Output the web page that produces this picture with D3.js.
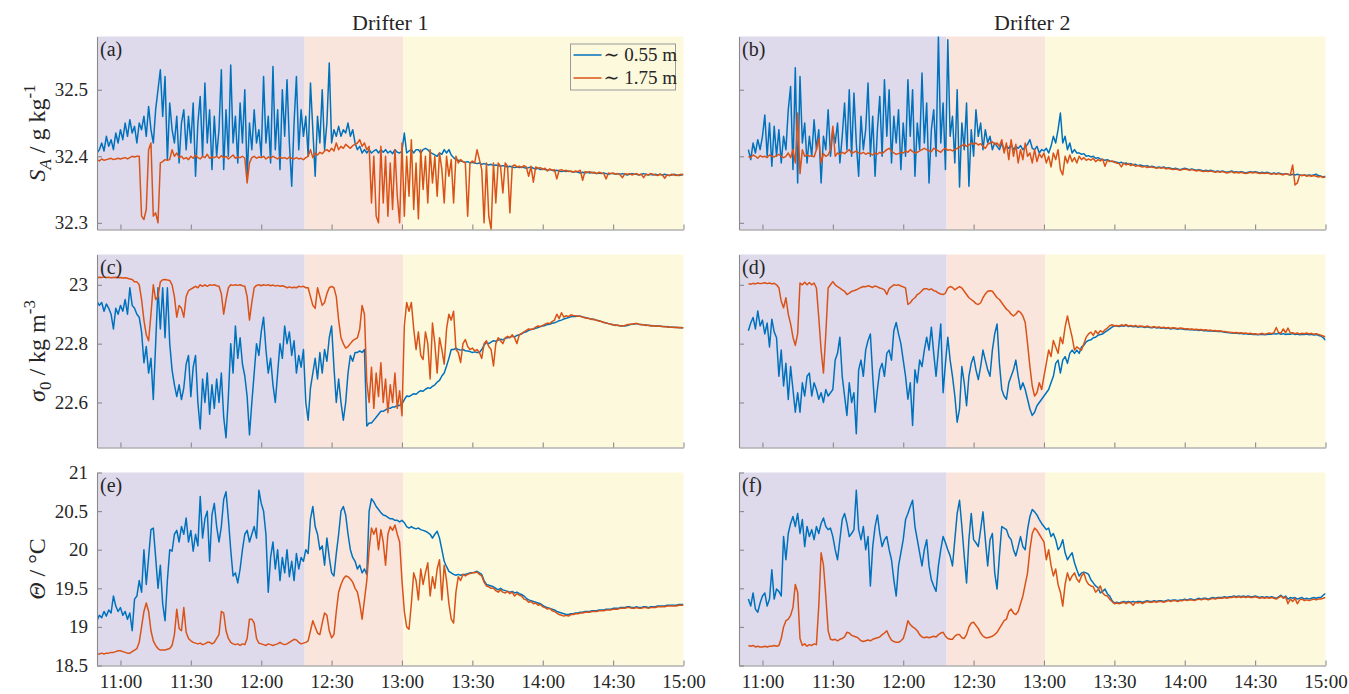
<!DOCTYPE html>
<html>
<head>
<meta charset="utf-8">
<style>
  body { margin: 0; background: #fff; }
  svg { font-family: "Liberation Serif", "Times New Roman", "DejaVu Serif", serif; }
  .tick text { font-family: "Liberation Serif", "Times New Roman", "DejaVu Serif", serif; font-size: 19px; fill: #262626; }
  .axis path, .axis line { stroke: #8a8a8a; stroke-width: 1.1; }
  .trace { fill: none; stroke-width: 1.5; stroke-linejoin: round; }
  .lbl { font-family: "Liberation Serif", "Times New Roman", "DejaVu Serif", serif; fill: #262626; }
</style>
</head>
<body>
<script src="https://d3js.org/d3.v7.min.js"></script>
<div id="chart"></div>
<script>
// one value per minute, starting 10:50 (index 0) to 15:00 (index 250)
// drifter 1 absolute salinity
var sal1Shallow = [
  32.405, 32.41, 32.42, 32.408, 32.43, 32.415, 32.425, 32.41, 32.435, 32.42,
  32.44, 32.425, 32.45, 32.43, 32.455, 32.435, 32.445, 32.42, 32.45, 32.44,
  32.46, 32.43, 32.475, 32.44, 32.42, 32.47, 32.5, 32.53, 32.46, 32.52,
  32.395, 32.48, 32.44, 32.42, 32.46, 32.39, 32.45, 32.47, 32.41, 32.46,
  32.42, 32.48, 32.37, 32.45, 32.49, 32.4, 32.51, 32.42, 32.47, 32.38,
  32.46, 32.4, 32.44, 32.53, 32.38, 32.47, 32.4, 32.537, 32.42, 32.46,
  32.39, 32.48, 32.42, 32.5, 32.37, 32.45, 32.41, 32.47, 32.42, 32.44,
  32.4, 32.52, 32.42, 32.46, 32.39, 32.535, 32.41, 32.47, 32.38, 32.5,
  32.43, 32.515, 32.42, 32.355, 32.45, 32.52, 32.41, 32.47, 32.43, 32.46,
  32.4, 32.51, 32.44, 32.37, 32.46, 32.42, 32.5, 32.41, 32.45, 32.54,
  32.42, 32.44, 32.43, 32.445, 32.43, 32.44, 32.435, 32.45, 32.43, 32.44,
  32.42, 32.41, 32.415, 32.405, 32.41, 32.405, 32.41, 32.405, 32.408, 32.41,
  32.405, 32.41, 32.406, 32.41, 32.405, 32.408, 32.404, 32.41, 32.406, 32.405,
  32.408, 32.435, 32.405, 32.408, 32.41, 32.405, 32.41, 32.41, 32.405, 32.41,
  32.412, 32.41, 32.406, 32.404, 32.402, 32.4, 32.405, 32.403, 32.41, 32.405,
  32.41, 32.402, 32.398, 32.395, 32.394, 32.393, 32.392, 32.391, 32.392, 32.39,
  32.391, 32.39, 32.389, 32.39, 32.388, 32.389, 32.388, 32.387, 32.388, 32.386,
  32.387, 32.386, 32.385, 32.386, 32.385, 32.384, 32.385, 32.384, 32.383, 32.384,
  32.383, 32.384, 32.383, 32.382, 32.383, 32.384, 32.382, 32.381, 32.382, 32.38,
  32.381, 32.38, 32.379, 32.38, 32.379, 32.378, 32.379, 32.378, 32.377, 32.378,
  32.377, 32.378, 32.377, 32.376, 32.377, 32.376, 32.375, 32.376, 32.375, 32.376,
  32.375, 32.376, 32.375, 32.374, 32.375, 32.374, 32.375, 32.374, 32.373, 32.374,
  32.374, 32.373, 32.374, 32.373, 32.374, 32.373, 32.372, 32.373, 32.374, 32.373,
  32.373, 32.372, 32.373, 32.374, 32.373, 32.372, 32.373, 32.372, 32.373, 32.372,
  32.373, 32.372, 32.373, 32.372, 32.371, 32.372, 32.373, 32.372, 32.371, 32.372, 32.373
];
var sal1Deep = [
  32.395, 32.393, 32.396, 32.394, 32.395, 32.396, 32.397, 32.395, 32.396, 32.397,
  32.396, 32.397, 32.398, 32.396, 32.398, 32.4, 32.399, 32.4, 32.4, 32.31,
  32.305, 32.32, 32.41, 32.42, 32.31, 32.315, 32.3, 32.39, 32.392, 32.395,
  32.394, 32.395, 32.41, 32.4, 32.405, 32.398, 32.4, 32.396, 32.398, 32.395,
  32.4, 32.397, 32.402, 32.398, 32.396, 32.4, 32.398, 32.403, 32.397, 32.399,
  32.398, 32.4, 32.397, 32.401, 32.398, 32.4, 32.396, 32.399, 32.402, 32.397,
  32.399, 32.398, 32.4, 32.397, 32.36, 32.39, 32.398, 32.4, 32.397, 32.399,
  32.398, 32.4, 32.396, 32.399, 32.397, 32.4, 32.398, 32.396, 32.399, 32.397,
  32.398, 32.396, 32.399, 32.397, 32.396, 32.398, 32.396, 32.397, 32.395, 32.398,
  32.4, 32.41, 32.398, 32.405, 32.402, 32.406, 32.404, 32.408, 32.41, 32.407,
  32.412, 32.408, 32.42, 32.41, 32.415, 32.412, 32.418, 32.415, 32.412, 32.416,
  32.418, 32.42, 32.425, 32.415, 32.42, 32.41, 32.415, 32.33, 32.4, 32.31,
  32.3, 32.415, 32.33, 32.4, 32.31, 32.39, 32.32, 32.41, 32.34, 32.3,
  32.42, 32.31, 32.4, 32.34, 32.425, 32.32, 32.39, 32.306, 32.41, 32.35,
  32.4, 32.33, 32.41, 32.36, 32.4, 32.34, 32.405, 32.38, 32.33, 32.4,
  32.37, 32.395, 32.33, 32.4, 32.39, 32.395, 32.392, 32.39, 32.31, 32.39,
  32.393, 32.39, 32.41, 32.395, 32.38, 32.3, 32.39, 32.31, 32.29, 32.39,
  32.33, 32.39, 32.385, 32.345, 32.39, 32.385, 32.315, 32.385, 32.387, 32.384,
  32.385, 32.383, 32.386, 32.384, 32.37, 32.385, 32.361, 32.384, 32.382, 32.383,
  32.38, 32.382, 32.378, 32.381, 32.379, 32.38, 32.366, 32.379, 32.38, 32.378,
  32.379, 32.377, 32.378, 32.376, 32.378, 32.377, 32.379, 32.364, 32.377, 32.376,
  32.377, 32.375, 32.376, 32.374, 32.376, 32.375, 32.374, 32.366, 32.375, 32.374,
  32.375, 32.373, 32.374, 32.372, 32.368, 32.374, 32.373, 32.374, 32.372, 32.373,
  32.374, 32.372, 32.373, 32.368, 32.373, 32.372, 32.374, 32.373, 32.372, 32.371,
  32.373, 32.372, 32.367, 32.372, 32.371, 32.373, 32.372, 32.371, 32.372, 32.373, 32.372
];
// drifter 2 absolute salinity (record starts ~10:54)
var sal2Shallow = [
  null, null, null, null, 32.41, 32.395, 32.42, 32.405, 32.425, 32.41,
  32.43, 32.462, 32.4, 32.45, 32.385, 32.445, 32.4, 32.44, 32.39, 32.43,
  32.41, 32.47, 32.505, 32.38, 32.533, 32.36, 32.52, 32.42, 32.45, 32.39,
  32.43, 32.4, 32.455, 32.41, 32.44, 32.36, 32.43, 32.41, 32.47, 32.4,
  32.44, 32.42, 32.45, 32.39, 32.43, 32.48, 32.41, 32.5, 32.4, 32.495,
  32.42, 32.37, 32.46, 32.41, 32.44, 32.51, 32.4, 32.46, 32.37, 32.44,
  32.49, 32.4, 32.515, 32.43, 32.5, 32.39, 32.46, 32.42, 32.47, 32.38,
  32.45, 32.4, 32.515, 32.43, 32.5, 32.37, 32.45, 32.41, 32.525, 32.42,
  32.48, 32.36, 32.44, 32.47, 32.4, 32.58, 32.42, 32.48, 32.38, 32.575,
  32.43, 32.46, 32.39, 32.5, 32.354, 32.45, 32.41, 32.48, 32.355, 32.44,
  32.4, 32.47, 32.43, 32.45, 32.41, 32.44, 32.42, 32.43, 32.41, 32.42,
  32.415, 32.41, 32.42, 32.41, 32.415, 32.412, 32.418, 32.41, 32.415, 32.412,
  32.416, 32.41, 32.414, 32.418, 32.425, 32.412, 32.41, 32.415, 32.405, 32.41,
  32.408, 32.412, 32.405, 32.415, 32.43, 32.42, 32.44, 32.465, 32.42, 32.43,
  32.41, 32.42, 32.405, 32.41, 32.405, 32.405, 32.403, 32.404, 32.4, 32.401,
  32.399, 32.4, 32.397, 32.398, 32.396, 32.395, 32.394, 32.395, 32.393, 32.392,
  32.392, 32.391, 32.39, 32.391, 32.389, 32.39, 32.388, 32.389, 32.387, 32.388,
  32.386, 32.387, 32.386, 32.385, 32.386, 32.384, 32.385, 32.384, 32.383, 32.384,
  32.383, 32.384, 32.382, 32.383, 32.382, 32.381, 32.382, 32.381, 32.38, 32.381,
  32.382, 32.381, 32.38, 32.381, 32.38, 32.379, 32.38, 32.379, 32.378, 32.379,
  32.378, 32.379, 32.378, 32.377, 32.378, 32.377, 32.378, 32.377, 32.376, 32.377,
  32.378, 32.376, 32.377, 32.376, 32.377, 32.376, 32.375, 32.376, 32.377, 32.376,
  32.377, 32.376, 32.375, 32.376, 32.375, 32.376, 32.375, 32.374, 32.375, 32.374,
  32.375, 32.374, 32.373, 32.374, 32.373, 32.372, 32.373, 32.372, 32.373, 32.372,
  32.371, 32.372, 32.371, 32.372, 32.371, 32.372, 32.373, 32.371, 32.37, 32.369, 32.37
];
var sal2Deep = [
  null, null, null, null, 32.4, 32.398, 32.402, 32.4, 32.397, 32.401,
  32.399, 32.4, 32.398, 32.402, 32.4, 32.399, 32.401, 32.403, 32.4, 32.398,
  32.4, 32.405, 32.398, 32.41, 32.39, 32.465, 32.374, 32.41, 32.4, 32.402,
  32.4, 32.401, 32.399, 32.41, 32.427, 32.39, 32.404, 32.4, 32.402, 32.41,
  32.445, 32.4, 32.405, 32.403, 32.406, 32.404, 32.407, 32.41, 32.405, 32.406,
  32.408, 32.405, 32.404, 32.406, 32.403, 32.405, 32.404, 32.402, 32.405, 32.403,
  32.406, 32.404, 32.407, 32.41, 32.412, 32.408, 32.405, 32.403, 32.404, 32.406,
  32.405, 32.408, 32.406, 32.41, 32.407, 32.405, 32.406, 32.408, 32.41, 32.412,
  32.41, 32.408, 32.407, 32.412, 32.41, 32.408, 32.406, 32.41, 32.412, 32.409,
  32.41, 32.408, 32.41, 32.412, 32.414, 32.416, 32.418, 32.415, 32.417, 32.42,
  32.418, 32.42, 32.417, 32.419, 32.415, 32.412, 32.418, 32.42, 32.422, 32.418,
  32.42, 32.415, 32.425, 32.405, 32.42, 32.395, 32.425, 32.4, 32.418, 32.39,
  32.41, 32.395, 32.42, 32.4, 32.405, 32.39, 32.41, 32.392, 32.404, 32.398,
  32.405, 32.39, 32.4, 32.384, 32.405, 32.395, 32.41, 32.38, 32.372, 32.4,
  32.39, 32.402, 32.392, 32.398, 32.39, 32.4, 32.395, 32.398, 32.394, 32.396,
  32.394, 32.397, 32.392, 32.395, 32.393, 32.396, 32.385, 32.394, 32.392, 32.393,
  32.391, 32.39, 32.389, 32.384, 32.39, 32.387, 32.389, 32.386, 32.388, 32.385,
  32.386, 32.385, 32.384, 32.385, 32.383, 32.384, 32.384, 32.383, 32.382, 32.383,
  32.382, 32.383, 32.381, 32.382, 32.381, 32.38, 32.381, 32.38, 32.379, 32.38,
  32.381, 32.38, 32.379, 32.38, 32.379, 32.378, 32.379, 32.378, 32.377, 32.378,
  32.377, 32.378, 32.377, 32.376, 32.377, 32.376, 32.377, 32.376, 32.375, 32.376,
  32.377, 32.375, 32.376, 32.375, 32.376, 32.375, 32.374, 32.375, 32.376, 32.375,
  32.376, 32.375, 32.374, 32.375, 32.374, 32.375, 32.374, 32.373, 32.374, 32.373,
  32.374, 32.373, 32.372, 32.374, 32.373, 32.372, 32.387, 32.357, 32.36, 32.372,
  32.371, 32.372, 32.37, 32.371, 32.37, 32.371, 32.37, 32.369, 32.37, 32.368, 32.369
];
// drifter 1 potential density anomaly
var sig1Shallow = [
  22.944, 22.93, 22.94, 22.91, 22.935, 22.92, 22.9, 22.85, 22.92, 22.9,
  22.93, 22.91, 22.95, 22.9, 22.99, 22.93, 22.92, 22.9, 22.89, 22.84,
  22.735, 22.79, 22.7, 22.75, 22.61, 22.8, 22.99, 22.85, 22.99, 22.82,
  22.99, 22.8, 22.71, 22.66, 22.62, 22.66, 22.61, 22.65, 22.73, 22.76,
  22.62, 22.72, 22.76, 22.6, 22.51, 22.68, 22.6, 22.7, 22.56, 22.66,
  22.58, 22.68, 22.6, 22.7, 22.55, 22.48, 22.62, 22.8, 22.7, 22.86,
  22.75, 22.82, 22.73, 22.69, 22.62, 22.49, 22.6, 22.7, 22.8, 22.76,
  22.84, 22.89, 22.78, 22.7, 22.75, 22.66, 22.6, 22.7, 22.8, 22.75,
  22.86, 22.8, 22.84, 22.76, 22.81, 22.7, 22.76, 22.72, 22.78, 22.6,
  22.54, 22.65, 22.7, 22.75, 22.68, 22.77, 22.7, 22.78, 22.74, 22.82,
  22.86, 22.72, 22.6, 22.68, 22.6, 22.54, 22.6, 22.7, 22.76, 22.74,
  22.77, 22.77, 22.775, 22.77, 22.78, 22.52, 22.53, 22.53, 22.54, 22.55,
  22.56, 22.57, 22.57, 22.575, 22.58, 22.58, 22.585, 22.585, 22.59, 22.59,
  22.594, 22.61, 22.622, 22.62, 22.625, 22.63, 22.628, 22.635, 22.64, 22.638,
  22.645, 22.65, 22.648, 22.655, 22.66, 22.669, 22.675, 22.69, 22.7, 22.724,
  22.75, 22.78, 22.78, 22.785, 22.78, 22.778, 22.78, 22.776, 22.775, 22.773,
  22.77, 22.772, 22.77, 22.77, 22.78, 22.795, 22.804, 22.8, 22.805, 22.81,
  22.808, 22.812, 22.815, 22.813, 22.818, 22.82, 22.822, 22.825, 22.823, 22.828,
  22.83, 22.833, 22.838, 22.84, 22.845, 22.848, 22.85, 22.852, 22.855, 22.858,
  22.86, 22.862, 22.865, 22.866, 22.869, 22.871, 22.874, 22.878, 22.88, 22.884,
  22.886, 22.889, 22.891, 22.893, 22.892, 22.894, 22.893, 22.891, 22.889, 22.887,
  22.885, 22.884, 22.882, 22.88, 22.878, 22.875, 22.872, 22.87, 22.868, 22.866,
  22.864, 22.863, 22.862, 22.861, 22.861, 22.86, 22.862, 22.864, 22.866, 22.867,
  22.868, 22.866, 22.865, 22.864, 22.863, 22.862, 22.862, 22.861, 22.86, 22.86,
  22.859, 22.858, 22.858, 22.857, 22.857, 22.856, 22.856, 22.855, 22.855, 22.854, 22.854
];
var sig1Deep = [
  23.025, 23.026, 23.025, 23.027, 23.025, 23.026, 23.024, 23.025, 23.026, 23.024,
  23.025, 23.023, 23.024, 23.022, 23.02, 23.018, 23.01, 23.01, 23.0, 22.95,
  22.88, 22.83, 22.81, 22.9, 23.0, 22.95, 22.96, 23.01, 23.017, 23.018,
  23.016, 23.015, 23.0, 22.96, 22.89, 22.93, 22.92, 22.89, 22.96, 22.98,
  22.985, 22.99, 22.995, 22.99, 23.0, 22.995, 23.0, 22.995, 23.0, 22.998,
  23.0, 22.997, 22.995, 22.97, 22.9, 22.95, 22.99, 23.0, 22.998, 23.0,
  22.998, 23.0, 22.997, 22.995, 22.96, 22.88, 22.94, 22.99, 22.998, 23.0,
  22.997, 23.0, 22.998, 23.0, 22.997, 22.999, 22.996, 22.998, 22.995, 22.997,
  22.994, 22.99, 22.993, 22.99, 22.992, 22.99, 22.995, 22.993, 22.995, 22.99,
  22.99, 22.96, 22.93, 22.92, 22.99, 22.96, 22.93, 22.94, 22.97, 22.99,
  22.995, 22.99, 22.96, 22.88, 22.82, 22.8, 22.785, 22.79, 22.8, 22.81,
  22.815, 22.82, 22.85, 22.93, 22.9, 22.67, 22.6, 22.72, 22.58, 22.7,
  22.62, 22.735, 22.6, 22.68, 22.565, 22.66, 22.6, 22.7, 22.58, 22.64,
  22.555, 22.86, 22.94, 22.91, 22.94, 22.85, 22.78, 22.84, 22.76, 22.746,
  22.84, 22.8, 22.68, 22.87, 22.8, 22.7, 22.82, 22.78, 22.73, 22.85,
  22.9, 22.88, 22.91, 22.78, 22.77, 22.736, 22.8, 22.814, 22.79, 22.78,
  22.785, 22.775, 22.78, 22.77, 22.75, 22.8, 22.81, 22.79, 22.78, 22.724,
  22.8, 22.82, 22.81, 22.8, 22.82, 22.825, 22.82, 22.83, 22.82, 22.8,
  22.83, 22.835, 22.84, 22.845, 22.85, 22.848, 22.85, 22.856, 22.86, 22.858,
  22.862, 22.866, 22.87, 22.868, 22.875, 22.88, 22.9, 22.885, 22.905, 22.89,
  22.895, 22.892, 22.898, 22.896, 22.895, 22.893, 22.893, 22.89, 22.888, 22.886,
  22.885, 22.882, 22.882, 22.879, 22.877, 22.875, 22.873, 22.87, 22.868, 22.866,
  22.864, 22.862, 22.863, 22.86, 22.86, 22.862, 22.864, 22.866, 22.866, 22.868,
  22.869, 22.866, 22.864, 22.864, 22.862, 22.863, 22.86, 22.861, 22.86, 22.859,
  22.86, 22.858, 22.857, 22.858, 22.856, 22.856, 22.855, 22.856, 22.854, 22.855, 22.854
];
// drifter 2 potential density anomaly
var sig2Shallow = [
  null, null, null, null, 22.844, 22.87, 22.889, 22.85, 22.911, 22.86,
  22.88, 22.833, 22.87, 22.789, 22.883, 22.84, 22.82, 22.689, 22.778, 22.656,
  22.733, 22.61, 22.722, 22.644, 22.567, 22.633, 22.567, 22.667, 22.622, 22.689,
  22.7, 22.622, 22.667, 22.644, 22.611, 22.633, 22.6, 22.644, 22.622, 22.633,
  22.644, 22.744, 22.767, 22.822, 22.689, 22.622, 22.556, 22.667, 22.6, 22.633,
  22.494, 22.711, 22.744, 22.689, 22.778, 22.811, 22.833, 22.689, 22.567, 22.644,
  22.711, 22.733, 22.689, 22.767, 22.778, 22.744, 22.844, 22.872, 22.833, 22.8,
  22.744, 22.689, 22.611, 22.667, 22.522, 22.711, 22.667, 22.744, 22.722, 22.778,
  22.822, 22.778, 22.856, 22.767, 22.689, 22.778, 22.867, 22.633, 22.733, 22.822,
  22.744, 22.689, 22.622, 22.533, 22.578, 22.722, 22.667, 22.589, 22.689, 22.733,
  22.756, 22.711, 22.678, 22.722, 22.778, 22.744, 22.711, 22.689, 22.778, 22.833,
  22.867, 22.733, 22.644, 22.622, 22.611, 22.667, 22.689, 22.711, 22.744, 22.689,
  22.644, 22.667, 22.644, 22.611, 22.578, 22.556, 22.567, 22.589, 22.6, 22.611,
  22.622, 22.633, 22.644, 22.667, 22.689, 22.733, 22.744, 22.7, 22.744, 22.756,
  22.733, 22.767, 22.778, 22.767, 22.778, 22.767, 22.789, 22.794, 22.806, 22.811,
  22.813, 22.82, 22.822, 22.828, 22.831, 22.833, 22.839, 22.844, 22.85, 22.856,
  22.86, 22.86, 22.858, 22.861, 22.859, 22.862, 22.858, 22.86, 22.857, 22.859,
  22.856, 22.858, 22.857, 22.855, 22.857, 22.855, 22.854, 22.856, 22.853, 22.855,
  22.852, 22.854, 22.851, 22.853, 22.85, 22.852, 22.851, 22.849, 22.851, 22.85,
  22.848, 22.849, 22.847, 22.848, 22.846, 22.847, 22.845, 22.846, 22.844, 22.845,
  22.843, 22.844, 22.842, 22.843, 22.841, 22.842, 22.84, 22.839, 22.838, 22.837,
  22.836, 22.835, 22.836, 22.834, 22.835, 22.833, 22.834, 22.832, 22.833, 22.831,
  22.832, 22.83, 22.831, 22.832, 22.83, 22.831, 22.833, 22.832, 22.834, 22.833,
  22.835, 22.832, 22.834, 22.831, 22.833, 22.832, 22.834, 22.831, 22.833, 22.83,
  22.832, 22.831, 22.833, 22.83, 22.832, 22.829, 22.831, 22.828, 22.826, 22.82, 22.812
];
var sig2Deep = [
  null, null, null, null, 23.004, 23.002, 23.005, 23.003, 23.006, 23.004,
  23.005, 23.007, 23.004, 23.006, 23.003, 23.005, 23.0, 22.99, 22.944, 22.922,
  22.956, 22.9, 22.867, 22.822, 22.794, 22.833, 23.006, 23.0, 23.009, 23.0,
  23.008, 23.0, 23.006, 22.989, 22.889, 22.778, 22.7, 22.833, 22.989, 23.0,
  23.011, 23.0, 22.994, 22.989, 22.983, 22.978, 22.967, 22.972, 22.978, 22.98,
  22.983, 22.987, 22.991, 22.994, 22.993, 22.997, 22.994, 22.991, 22.996, 22.993,
  22.989, 22.987, 22.983, 22.967, 22.987, 22.994, 23.0, 22.998, 23.0, 22.996,
  22.993, 22.989, 22.933, 22.939, 22.95, 22.956, 22.967, 22.972, 22.98, 22.987,
  22.987, 22.983, 22.986, 22.98, 22.978, 22.972, 22.969, 22.967, 22.972, 22.989,
  22.994, 22.991, 22.983, 22.989, 22.994, 22.989, 22.978, 22.967, 22.956, 22.95,
  22.944, 22.936, 22.933, 22.939, 22.956, 22.969, 22.978, 22.98, 22.978, 22.967,
  22.956, 22.95, 22.939, 22.928, 22.917, 22.911, 22.9, 22.894, 22.9, 22.911,
  22.906, 22.894, 22.872, 22.8, 22.722, 22.656, 22.622, 22.633, 22.667, 22.644,
  22.689, 22.733, 22.778, 22.756, 22.811, 22.789, 22.767, 22.822, 22.8, 22.856,
  22.894, 22.856, 22.822, 22.778, 22.789, 22.783, 22.778, 22.8, 22.822, 22.833,
  22.839, 22.828, 22.844, 22.833, 22.844, 22.839, 22.847, 22.853, 22.861, 22.864,
  22.861, 22.862, 22.86, 22.864, 22.861, 22.865, 22.86, 22.862, 22.859, 22.862,
  22.858, 22.86, 22.859, 22.857, 22.86, 22.857, 22.856, 22.858, 22.855, 22.857,
  22.854, 22.856, 22.853, 22.855, 22.852, 22.854, 22.853, 22.851, 22.853, 22.852,
  22.85, 22.851, 22.849, 22.85, 22.848, 22.849, 22.847, 22.848, 22.846, 22.847,
  22.845, 22.846, 22.844, 22.845, 22.843, 22.844, 22.842, 22.841, 22.84, 22.839,
  22.838, 22.837, 22.838, 22.836, 22.837, 22.835, 22.836, 22.834, 22.835, 22.833,
  22.834, 22.832, 22.833, 22.835, 22.832, 22.834, 22.836, 22.834, 22.837, 22.855,
  22.838, 22.836, 22.85, 22.837, 22.853, 22.836, 22.837, 22.834, 22.836, 22.833,
  22.835, 22.834, 22.836, 22.833, 22.835, 22.832, 22.834, 22.831, 22.829, 22.826, 22.822
];
// drifter 1 conservative temperature
var tem1Shallow = [
  19.08, 19.15, 19.12, 19.2, 19.14, 19.22, 19.18, 19.4, 19.27, 19.2,
  19.25, 19.15, 19.2, 19.1, 19.18, 18.95, 19.36, 19.4, 19.6, 19.45,
  20.0, 19.55, 19.9, 20.26, 20.28, 19.9, 19.5, 19.8, 19.3, 19.08,
  19.6, 20.0, 19.98, 20.2, 20.25, 20.1, 20.3, 20.2, 20.41, 20.1,
  20.25, 19.98, 20.2, 20.05, 20.69, 20.15, 20.4, 20.5, 19.85, 20.45,
  20.6, 20.3, 20.1, 20.3, 20.65, 20.75, 20.4, 20.0, 19.66, 19.7,
  19.57, 19.75, 20.0, 20.2, 20.25, 20.1, 20.2, 20.3, 20.15, 20.77,
  20.6, 20.5, 20.2, 19.45, 19.9, 20.1, 19.75, 20.0, 19.6, 19.9,
  19.7, 20.0, 19.65, 19.85, 19.6, 19.95, 19.75, 19.9, 19.85, 20.0,
  19.95, 20.4, 20.56, 20.3, 20.2, 20.0, 20.05, 19.8, 20.15, 19.9,
  19.7, 19.66, 19.95, 20.2, 20.5, 20.56, 20.45, 20.2, 20.0, 19.9,
  19.85, 19.75, 19.8, 19.7, 19.75, 19.68, 20.5, 20.66, 20.62, 20.56,
  20.52, 20.48, 20.45, 20.44, 20.42, 20.4, 20.4, 20.38, 20.38, 20.36,
  20.38, 20.35, 20.3, 20.28, 20.3, 20.28, 20.27, 20.28, 20.26, 20.25,
  20.24, 20.22, 20.2, 20.15, 20.2, 20.24, 20.15, 20.0, 19.85, 19.78,
  19.72, 19.7, 19.68, 19.67, 19.68, 19.67, 19.68, 19.68, 19.69, 19.7,
  19.7, 19.71, 19.72, 19.7, 19.68, 19.6, 19.55, 19.54, 19.53, 19.52,
  19.5, 19.48, 19.5, 19.48, 19.47, 19.46, 19.45, 19.46, 19.44, 19.45,
  19.43, 19.42, 19.4, 19.37, 19.35, 19.34, 19.33, 19.32, 19.31, 19.3,
  19.28, 19.26, 19.25, 19.24, 19.23, 19.22, 19.2, 19.19, 19.18, 19.17,
  19.16, 19.16, 19.17, 19.17, 19.18, 19.18, 19.19, 19.19, 19.2, 19.2,
  19.2, 19.21, 19.21, 19.21, 19.22, 19.22, 19.22, 19.23, 19.23, 19.23,
  19.24, 19.24, 19.24, 19.25, 19.25, 19.25, 19.26, 19.26, 19.25, 19.25,
  19.26, 19.25, 19.25, 19.26, 19.26, 19.25, 19.26, 19.26, 19.26, 19.27,
  19.27, 19.27, 19.27, 19.28, 19.28, 19.28, 19.28, 19.28, 19.29, 19.29, 19.29
];
var tem1Deep = [
  18.65, 18.65, 18.66, 18.65, 18.66, 18.66, 18.67, 18.67, 18.68, 18.69,
  18.69, 18.68, 18.67, 18.66, 18.66, 18.68, 18.7, 18.72, 18.8, 19.0,
  19.2, 19.31, 19.2, 18.95, 18.82, 18.76, 18.72, 18.7, 18.7, 18.7,
  18.71, 18.72, 18.76, 18.9, 19.23, 18.98, 18.95, 19.25, 18.93, 18.85,
  18.82, 18.8, 18.79, 18.78, 18.79, 18.77, 18.78, 18.8, 18.8, 18.78,
  18.8, 18.85, 18.9, 19.2, 19.18, 18.95, 18.85, 18.8, 18.78, 18.77,
  18.78, 18.76, 18.78, 18.77, 18.85, 19.1, 19.1, 19.05, 18.85, 18.79,
  18.78, 18.77, 18.76, 18.78, 18.77, 18.76, 18.77, 18.78, 18.8, 18.78,
  18.77, 18.78, 18.8, 18.82, 18.84, 18.83, 18.8, 18.78, 18.79, 18.8,
  18.82, 18.95, 19.08, 19.0, 18.92, 18.9, 19.05, 19.18, 19.15, 18.95,
  18.86, 18.9, 19.2, 19.45, 19.55, 19.62, 19.66, 19.65, 19.62, 19.58,
  19.5, 19.45, 19.3, 19.1, 19.35, 19.6, 20.0, 20.28, 20.2, 20.28,
  20.0, 20.26, 20.1, 19.8, 20.2, 20.3, 20.25, 20.32, 20.2, 20.1,
  19.6, 19.2, 19.0, 18.97, 19.3, 19.7, 19.6, 19.35, 19.75, 19.55,
  19.7, 19.83, 19.4, 19.65, 19.5, 19.75, 19.87, 19.35, 19.8, 19.6,
  19.3, 19.1, 19.05, 19.45, 19.65, 19.6, 19.68, 19.66, 19.68, 19.69,
  19.7, 19.7, 19.71, 19.68, 19.66, 19.58, 19.53, 19.52, 19.5, 19.5,
  19.47, 19.45, 19.48, 19.45, 19.44, 19.46, 19.43, 19.45, 19.4, 19.43,
  19.41, 19.4, 19.36, 19.35, 19.32, 19.33, 19.3, 19.31, 19.28, 19.29,
  19.26, 19.25, 19.23, 19.24, 19.21, 19.2, 19.18, 19.16, 19.15, 19.14,
  19.15, 19.14, 19.16, 19.16, 19.17, 19.17, 19.18, 19.18, 19.19, 19.19,
  19.19, 19.2, 19.2, 19.2, 19.21, 19.21, 19.21, 19.22, 19.22, 19.22,
  19.23, 19.23, 19.23, 19.24, 19.24, 19.24, 19.25, 19.25, 19.24, 19.24,
  19.25, 19.24, 19.24, 19.25, 19.25, 19.24, 19.25, 19.25, 19.25, 19.26,
  19.26, 19.26, 19.26, 19.27, 19.27, 19.27, 19.27, 19.27, 19.28, 19.28, 19.28
];
// drifter 2 conservative temperature
var tem2Shallow = [
  null, null, null, null, 19.36, 19.27, 19.44, 19.23, 19.19, 19.31,
  19.4, 19.44, 19.27, 19.36, 19.74, 19.36, 19.49, 19.46, 19.4, 20.17,
  19.87, 20.21, 20.34, 20.43, 20.3, 20.47, 20.21, 20.39, 20.04, 20.3,
  20.17, 20.26, 20.13, 20.3, 20.21, 20.34, 20.41, 20.3, 20.26, 20.28,
  20.17, 20.0, 19.87, 20.13, 20.39, 20.47, 20.34, 20.17, 20.21, 20.26,
  20.77, 20.26, 20.13, 20.3, 20.0, 20.17, 19.53, 20.04, 20.3, 20.45,
  20.21, 20.04, 20.13, 20.17, 20.0, 19.87, 19.61, 19.4, 19.79, 19.96,
  20.13, 20.39, 20.47, 20.56, 20.64, 20.3, 20.13, 19.96, 19.79, 20.0,
  20.13, 19.79, 19.61, 19.53, 19.46, 19.79, 20.0, 20.17, 20.09, 20.0,
  19.92, 19.79, 20.13, 20.47, 20.64, 20.3, 19.92, 19.57, 20.13, 20.47,
  20.13, 20.09, 20.04, 20.26, 20.49, 20.13, 19.79, 20.13, 20.21, 19.7,
  19.49, 19.92, 20.3, 20.28, 20.26, 20.17, 20.13, 20.0, 19.92, 20.04,
  20.17, 20.04, 20.0, 20.26, 20.43, 20.52, 20.49, 20.45, 20.39, 20.34,
  20.3, 20.26, 20.28, 20.17, 20.21, 20.13, 20.0, 20.04, 20.13, 19.96,
  19.87, 19.92, 19.96, 19.83, 19.74, 19.66, 19.7, 19.71, 19.7, 19.68,
  19.61, 19.57, 19.53, 19.51, 19.44, 19.46, 19.49, 19.43, 19.4, 19.34,
  19.31, 19.32, 19.31, 19.32, 19.33, 19.32, 19.33, 19.32, 19.33, 19.32,
  19.33, 19.33, 19.32, 19.33, 19.34, 19.33, 19.33, 19.34, 19.33, 19.34,
  19.34, 19.33, 19.34, 19.35, 19.34, 19.35, 19.35, 19.34, 19.35, 19.35,
  19.36, 19.35, 19.36, 19.36, 19.35, 19.36, 19.37, 19.36, 19.37, 19.37,
  19.36, 19.37, 19.38, 19.37, 19.38, 19.38, 19.38, 19.39, 19.38, 19.39,
  19.39, 19.4, 19.39, 19.4, 19.39, 19.4, 19.39, 19.4, 19.39, 19.39,
  19.4, 19.39, 19.38, 19.39, 19.38, 19.39, 19.38, 19.39, 19.38, 19.37,
  19.39, 19.41, 19.38, 19.4, 19.36, 19.38, 19.37, 19.38, 19.36, 19.37,
  19.38, 19.36, 19.37, 19.36, 19.37, 19.38, 19.37, 19.38, 19.38, 19.41, 19.43
];
var tem2Deep = [
  null, null, null, null, 18.76, 18.75, 18.76, 18.74, 18.75, 18.74,
  18.74, 18.75, 18.74, 18.75, 18.75, 18.76, 18.75, 18.76, 18.85, 19.0,
  19.08, 19.1, 19.15, 19.25, 19.55, 19.45, 18.85, 18.76, 18.78, 18.75,
  18.77, 18.76, 18.78, 18.77, 19.27, 19.96, 19.8, 19.4, 18.95, 18.84,
  18.83, 18.84, 18.82, 18.84, 18.85, 18.87, 18.93, 18.92, 18.89, 18.88,
  18.87, 18.85, 18.82, 18.81, 18.82, 18.83, 18.82, 18.84, 18.85, 18.86,
  18.87, 18.9, 18.92, 18.95, 18.88, 18.83, 18.81, 18.8, 18.8, 18.82,
  18.85, 18.95, 19.08, 19.03, 19.0, 18.98, 18.95, 18.9, 18.87, 18.86,
  18.87, 18.86, 18.87, 18.88, 18.87, 18.9, 18.92, 18.93, 18.88, 18.85,
  18.84, 18.84, 18.88, 18.9, 18.9, 18.86, 18.85, 18.9, 19.0, 19.05,
  19.06, 19.02, 18.98, 18.92, 18.88, 18.86, 18.86, 18.87, 18.88, 18.9,
  18.93, 18.98, 19.03, 19.08, 19.1, 19.2, 19.23, 19.18, 19.16, 19.2,
  19.3, 19.4, 19.55, 19.7, 20.0, 20.21, 20.28, 20.25, 20.2, 20.15,
  20.1, 19.87, 20.0, 19.8, 19.66, 19.75, 19.55, 19.45, 19.27, 19.55,
  19.7, 19.6, 19.66, 19.7, 19.62, 19.58, 19.66, 19.7, 19.6, 19.55,
  19.53, 19.52, 19.45, 19.48, 19.53, 19.44, 19.41, 19.4, 19.36, 19.33,
  19.3, 19.31, 19.3, 19.31, 19.32, 19.3, 19.32, 19.31, 19.28, 19.32,
  19.31, 19.32, 19.3, 19.32, 19.33, 19.32, 19.32, 19.33, 19.32, 19.33,
  19.33, 19.32, 19.33, 19.34, 19.33, 19.34, 19.34, 19.33, 19.34, 19.34,
  19.35, 19.34, 19.35, 19.35, 19.34, 19.35, 19.36, 19.35, 19.36, 19.36,
  19.35, 19.36, 19.37, 19.36, 19.37, 19.37, 19.37, 19.38, 19.37, 19.38,
  19.38, 19.39, 19.38, 19.39, 19.38, 19.39, 19.38, 19.39, 19.38, 19.38,
  19.39, 19.38, 19.37, 19.38, 19.37, 19.38, 19.37, 19.38, 19.37, 19.36,
  19.38, 19.4, 19.37, 19.39, 19.3, 19.36, 19.33, 19.37, 19.3, 19.35,
  19.36, 19.34, 19.35, 19.34, 19.35, 19.36, 19.35, 19.36, 19.36, 19.37, 19.38
];

var depthNames = ["\u223c 0.55 m", "\u223c 1.75 m"];
var drifterNames = ["Drifter 1", "Drifter 2"];
var panelLetters = ["(a)", "(b)", "(c)", "(d)", "(e)", "(f)"];
var timeTickLabels = ["11:00", "11:30", "12:00", "12:30", "13:00", "13:30", "14:00", "14:30", "15:00"];
// phase shading, minutes after 10:50
var phaseEdges = [0, 88.5, 130.5, 250];
var phaseColors = ["#dedaec", "#fae5dd", "#fdf9dd"];
var salTicks = [32.3, 32.4, 32.5];
var sigTicks = [22.6, 22.8, 23];
var temTicks = [18.5, 19, 19.5, 20, 20.5, 21];

var W = 1349, H = 694;
var colX = [97, 739], plotW = 586.5;
var rowY = [36.5, 254.5, 472.5], plotH = 193;
var blue = "#0072bd", orange = "#d95319";
var serif = '"Liberation Serif", "Times New Roman", "DejaVu Serif", serif';

var t0 = new Date(2000, 0, 1, 10, 50);
function atMin(m) { return new Date(t0.getTime() + m * 60000); }

var rows = [
  { dom: [32.29, 32.58], ticks: salTicks, series: [[sal1Shallow, sal1Deep], [sal2Shallow, sal2Deep]] },
  { dom: [22.447, 23.103], ticks: sigTicks, series: [[sig1Shallow, sig1Deep], [sig2Shallow, sig2Deep]] },
  { dom: [18.5, 21], ticks: temTicks, series: [[tem1Shallow, tem1Deep], [tem2Shallow, tem2Deep]] }
];

var svg = d3.select("#chart").append("svg")
  .attr("width", W).attr("height", H)
  .attr("font-family", serif);

var tickDates = timeTickLabels.map(function(s) {
  var p = s.split(":");
  return new Date(2000, 0, 1, +p[0], +p[1]);
});

rows.forEach(function(r, ri) {
  [0, 1].forEach(function(ci) {
    var x = d3.scaleTime().domain([atMin(0), atMin(250)]).range([0, plotW]);
    var y = d3.scaleLinear().domain(r.dom).range([plotH, 0]);
    var g = svg.append("g").attr("transform", "translate(" + colX[ci] + "," + rowY[ri] + ")");
    var cid = "clip" + ri + ci;
    g.append("clipPath").attr("id", cid).append("rect")
      .attr("width", plotW).attr("height", plotH);

    // phase shading
    g.selectAll(".phase").data(phaseColors).enter().append("rect")
      .attr("x", function(d, i) { return x(atMin(phaseEdges[i])); })
      .attr("width", function(d, i) { return x(atMin(phaseEdges[i + 1])) - x(atMin(phaseEdges[i])); })
      .attr("y", 0).attr("height", plotH)
      .attr("fill", function(d) { return d; });

    var line = d3.line()
      .defined(function(d) { return d != null; })
      .x(function(d, i) { return x(atMin(i)); })
      .y(function(d) { return y(d); });

    var traces = g.append("g").attr("clip-path", "url(#" + cid + ")");
    r.series[ci].forEach(function(vals, k) {
      traces.append("path").datum(vals)
        .attr("class", "trace")
        .attr("stroke", k === 0 ? blue : orange)
        .attr("d", line);
    });

    // axes, ticks pointing inward
    var xa = d3.axisBottom(x).tickValues(tickDates).tickSizeInner(-5).tickSizeOuter(0).tickPadding(9)
      .tickFormat(ri === 2 ? d3.timeFormat("%H:%M") : function() { return ""; });
    g.append("g").attr("class", "axis").attr("transform", "translate(0," + plotH + ")").call(xa)
      .attr("font-family", serif).attr("font-size", 19);
    var ya = d3.axisLeft(y).tickValues(r.ticks).tickSizeInner(-5).tickSizeOuter(0).tickPadding(9)
      .tickFormat(ci === 0 ? function(d) { return String(d); } : function() { return ""; });
    g.append("g").attr("class", "axis").call(ya)
      .attr("font-family", serif).attr("font-size", 19);

    g.append("text").attr("class", "lbl")
      .attr("x", 3).attr("y", 19).attr("font-size", 20)
      .text(panelLetters[ri * 2 + ci]);

    if (ri === 0) {
      svg.append("text").attr("class", "lbl")
        .attr("x", colX[ci] + plotW / 2).attr("y", 30)
        .attr("text-anchor", "middle").attr("font-size", 22)
        .text(drifterNames[ci]);
    }
    if (ri === 0 && ci === 0) {
      var lg = g.append("g").attr("transform", "translate(" + (plotW - 113) + ",7.5)");
      lg.append("rect").attr("width", 105).attr("height", 46)
        .attr("fill", "none").attr("stroke", "#9a9a9a").attr("stroke-width", 1);
      depthNames.forEach(function(name, k) {
        lg.append("line").attr("x1", 3).attr("x2", 31)
          .attr("y1", 11 + k * 23).attr("y2", 11 + k * 23)
          .attr("stroke", k === 0 ? blue : orange).attr("stroke-width", 1.5);
        lg.append("text").attr("class", "lbl").attr("x", 33).attr("y", 17 + k * 23)
          .attr("font-size", 19).text(name);
      });
    }
  });
});

// y-axis titles
function yTitle(ri) {
  return svg.append("text").attr("class", "lbl")
    .attr("transform", "translate(45," + (rowY[ri] + plotH / 2) + ") rotate(-90)")
    .attr("text-anchor", "middle").attr("font-size", 24);
}
var t1 = yTitle(0);
t1.append("tspan").attr("font-style", "italic").text("S");
t1.append("tspan").attr("font-style", "italic").attr("font-size", 17).attr("dy", 6).text("A");
t1.append("tspan").attr("dy", -6).text(" / g kg");
t1.append("tspan").attr("font-size", 17).attr("dy", -10).text("-1");
var t2 = yTitle(1);
t2.append("tspan").attr("font-style", "italic").text("\u03c3");
t2.append("tspan").attr("font-size", 17).attr("dy", 6).text("0");
t2.append("tspan").attr("dy", -6).text(" / kg m");
t2.append("tspan").attr("font-size", 17).attr("dy", -10).text("-3");
var t3 = yTitle(2);
t3.append("tspan").attr("font-style", "italic").text("\u0398");
t3.append("tspan").text(" / \u00b0C");
</script>
</body>
</html>
